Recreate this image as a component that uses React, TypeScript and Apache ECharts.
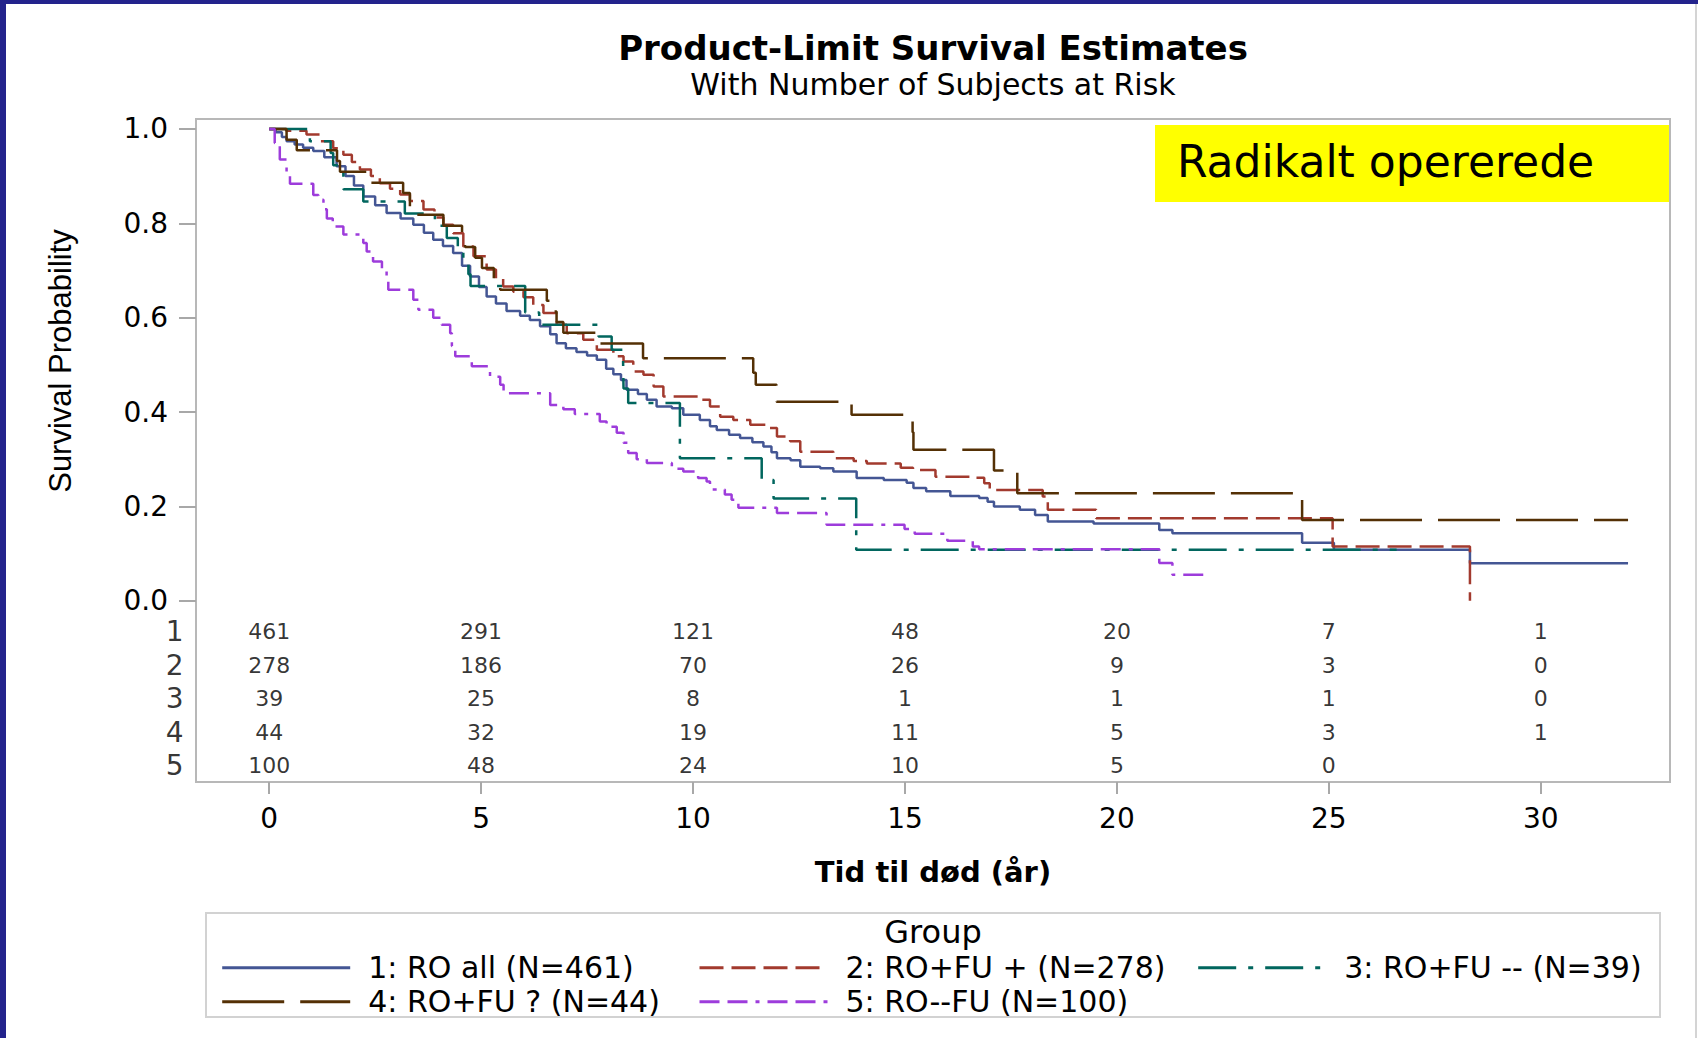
import React, { useEffect, useRef } from "react";
import * as echarts from "echarts";

// ---------- data ----------
const xTicks = [0, 5, 10, 15, 20, 25, 30];
const yTicks = [0, 0.2, 0.4, 0.6, 0.8, 1.0];

const groupNames = [
  "1: RO all (N=461)",
  "2: RO+FU + (N=278)",
  "3: RO+FU -- (N=39)",
  "4: RO+FU ? (N=44)",
  "5: RO--FU (N=100)",
];

// Group 1: RO all
const g1Times = [0.15, 0.3, 0.41, 0.6, 0.8, 1.04, 1.3, 1.59, 1.8, 2.0, 2.22, 2.5, 2.77, 3.1, 3.4, 3.65, 3.87, 4.1, 4.34, 4.55, 4.74, 4.95, 5.13, 5.35, 5.6, 5.92, 6.15, 6.39, 6.63, 6.78, 7.0, 7.25, 7.5, 7.73, 7.95, 8.12, 8.3, 8.43, 8.7, 8.91, 9.14, 9.5, 9.77, 10.16, 10.4, 10.56, 10.85, 11.11, 11.4, 11.66, 11.85, 11.98, 12.3, 12.53, 13.0, 13.31, 13.86, 14.5, 15.04, 15.2, 15.5, 16.07, 16.75, 16.95, 17.1, 17.71, 18.07, 18.37, 19.45, 21.0, 21.31, 24.37, 25.12, 28.33];
const g1Surv = [0.993, 0.983, 0.974, 0.967, 0.96, 0.953, 0.94, 0.921, 0.9, 0.88, 0.857, 0.838, 0.822, 0.81, 0.797, 0.78, 0.765, 0.752, 0.737, 0.71, 0.687, 0.665, 0.645, 0.63, 0.614, 0.604, 0.595, 0.582, 0.565, 0.546, 0.535, 0.527, 0.52, 0.511, 0.492, 0.48, 0.468, 0.447, 0.438, 0.426, 0.412, 0.408, 0.394, 0.383, 0.37, 0.362, 0.352, 0.345, 0.336, 0.327, 0.315, 0.302, 0.298, 0.284, 0.281, 0.274, 0.26, 0.256, 0.25, 0.239, 0.232, 0.222, 0.218, 0.21, 0.2, 0.193, 0.182, 0.168, 0.164, 0.15, 0.143, 0.123, 0.108, 0.0795];
const g1End = 32.06;

// Group 2: RO+FU +
const g2Times = [0.4, 0.88, 1.2, 1.51, 1.75, 1.95, 2.14, 2.4, 2.61, 2.85, 3.09, 3.32, 3.64, 3.9, 4.11, 4.34, 4.58, 4.82, 5.13, 5.35, 5.52, 5.76, 6.0, 6.23, 6.47, 6.78, 7.02, 7.41, 7.73, 8.12, 8.36, 8.59, 8.83, 9.07, 9.3, 10.16, 10.4, 10.64, 10.95, 11.35, 11.74, 11.98, 12.29, 12.53, 13.31, 13.79, 14.1, 14.9, 15.19, 15.72, 16.57, 16.87, 17.0, 18.25, 18.37, 19.51, 25.09, 28.33];
const g2Surv = [0.996, 0.988, 0.974, 0.959, 0.945, 0.93, 0.914, 0.9, 0.885, 0.873, 0.861, 0.847, 0.829, 0.812, 0.797, 0.779, 0.751, 0.73, 0.702, 0.683, 0.666, 0.655, 0.643, 0.627, 0.61, 0.585, 0.567, 0.553, 0.532, 0.518, 0.507, 0.486, 0.479, 0.454, 0.433, 0.426, 0.412, 0.39, 0.383, 0.373, 0.366, 0.348, 0.338, 0.316, 0.302, 0.296, 0.291, 0.282, 0.277, 0.263, 0.261, 0.249, 0.235, 0.221, 0.193, 0.175, 0.115, 0.0];
const g2End = 28.33;

// Group 3: RO+FU --
const g3Times = [0.96, 1.45, 1.51, 1.75, 2.22, 3.2, 3.91, 4.19, 4.45, 4.58, 4.7, 4.75, 6.04, 6.37, 7.77, 8.08, 8.35, 8.36, 8.47, 9.69, 11.62, 11.9, 13.85];
const g3Surv = [0.974, 0.949, 0.923, 0.872, 0.846, 0.821, 0.795, 0.769, 0.744, 0.718, 0.692, 0.667, 0.611, 0.585, 0.56, 0.532, 0.504, 0.45, 0.419, 0.302, 0.256, 0.217, 0.108];
const g3End = 26.6;

// Group 4: RO+FU ?
const g4Times = [0.41, 0.65, 1.6, 1.67, 2.3, 3.16, 3.32, 4.11, 4.55, 4.62, 4.86, 5.02, 5.3, 5.45, 6.55, 6.67, 6.78, 6.94, 7.8, 8.82, 11.42, 11.48, 11.97, 13.74, 15.18, 15.2, 17.1, 17.65, 24.37];
const g4Surv = [0.977, 0.955, 0.932, 0.909, 0.886, 0.864, 0.818, 0.795, 0.773, 0.75, 0.727, 0.705, 0.682, 0.659, 0.636, 0.613, 0.591, 0.568, 0.545, 0.514, 0.483, 0.458, 0.422, 0.394, 0.357, 0.32, 0.276, 0.228, 0.171];
const g4End = 32.06;

// Group 5: RO--FU
const g5Times = [0.13, 0.25, 0.41, 0.49, 1.04, 1.16, 1.28, 1.36, 1.5, 1.75, 2.22, 2.3, 2.45, 2.66, 2.77, 2.81, 3.4, 3.52, 3.87, 4.07, 4.27, 4.31, 4.39, 4.78, 5.21, 5.45, 5.53, 6.63, 6.94, 7.21, 7.8, 7.96, 8.2, 8.36, 8.47, 8.67, 8.91, 9.5, 9.77, 10.12, 10.32, 10.4, 10.75, 10.91, 11.07, 11.98, 13.15, 14.99, 15.23, 16.0, 16.6, 16.75, 21.0, 21.31];
const g5Surv = [0.97, 0.935, 0.907, 0.884, 0.86, 0.85, 0.83, 0.81, 0.793, 0.776, 0.758, 0.74, 0.719, 0.7, 0.68, 0.659, 0.638, 0.617, 0.6, 0.585, 0.567, 0.54, 0.518, 0.497, 0.475, 0.458, 0.44, 0.415, 0.406, 0.396, 0.38, 0.369, 0.356, 0.335, 0.313, 0.3, 0.292, 0.28, 0.274, 0.26, 0.253, 0.236, 0.225, 0.214, 0.197, 0.186, 0.161, 0.152, 0.142, 0.127, 0.115, 0.109, 0.08, 0.055];
const g5End = 22.15;

// Number at risk (per group, at x ticks)
const atRisk1 = [461, 291, 121, 48, 20, 7, 1];
const atRisk2 = [278, 186, 70, 26, 9, 3, 0];
const atRisk3 = [39, 25, 8, 1, 1, 1, 0];
const atRisk4 = [44, 32, 19, 11, 5, 3, 1];
const atRisk5 = [100, 48, 24, 10, 5, 0, null];

// ---------- styling / layout ----------
const FONT = "'DejaVu Sans', sans-serif";
const colors = ["#445694", "#A23A2E", "#01665E", "#543005", "#9D3CDB"];
const dashes: any[] = ["solid", [24, 8], [38, 12, 5, 12], [62, 16], [20, 8, 20, 8, 4, 8]];

const X_MIN = -1.727;
const X_MAX = 33.05;
const Y_MIN = -0.384;
const Y_MAX = 1.021;
const ROW_Y0 = -0.0661;
const ROW_STEP = 0.0708;

function stepData(times: number[], surv: number[], end: number) {
  const d: number[][] = [[0, 1]];
  for (let i = 0; i < times.length; i++) d.push([times[i], surv[i]]);
  const last = d[d.length - 1];
  if (end > last[0]) d.push([end, last[1]]);
  return d;
}

function buildOption() {
  const curves = [
    stepData(g1Times, g1Surv, g1End),
    stepData(g2Times, g2Surv, g2End),
    stepData(g3Times, g3Surv, g3End),
    stepData(g4Times, g4Surv, g4End),
    stepData(g5Times, g5Surv, g5End),
  ];
  const lineSeries = curves.map((data, i) => ({
    type: "line",
    name: groupNames[i],
    data,
    step: "end",
    symbol: "none",
    showSymbol: false,
    silent: true,
    clip: true,
    z: 3 + i,
    lineStyle: { color: colors[i], width: 2.5, type: dashes[i] },
    itemStyle: { color: colors[i] },
  }));

  const risks = [atRisk1, atRisk2, atRisk3, atRisk4, atRisk5];
  const riskData: any[] = [];
  risks.forEach((row, r) => {
    row.forEach((v, k) => {
      if (v === null) return;
      riskData.push({ value: [xTicks[k], ROW_Y0 - r * ROW_STEP], label: { formatter: String(v) } });
    });
  });
  const rowLabelData = risks.map((_, r) => ({
    value: [X_MIN, ROW_Y0 - r * ROW_STEP],
    label: { formatter: String(r + 1) },
  }));

  const legendCommon = {
    orient: "vertical",
    itemWidth: 128,
    itemHeight: 16,
    itemGap: 4,
    padding: 0,
    selectedMode: false,
    itemStyle: { opacity: 0, borderWidth: 0 },
    lineStyle: { width: 3 },
    textStyle: { fontFamily: FONT, fontSize: 30, color: "#000", lineHeight: 30, padding: [0, 0, 0, 13] },
  };

  return {
    animation: false,
    backgroundColor: "#ffffff",
    grid: {
      left: 196,
      right: 28,
      top: 119,
      bottom: 256,
      show: true,
      borderColor: "#b8b8b8",
      borderWidth: 2,
      backgroundColor: "#ffffff",
    },
    xAxis: {
      type: "value",
      min: X_MIN,
      max: X_MAX,
      name: "Tid til død (år)",
      nameLocation: "middle",
      nameGap: 75,
      nameTextStyle: { fontFamily: FONT, fontSize: 29, fontWeight: "bold", color: "#000" },
      axisLine: { show: false, onZero: false },
      splitLine: { show: false },
      axisTick: { show: true, length: 12, inside: false, lineStyle: { color: "#a8a8a8", width: 2 }, customValues: xTicks },
      axisLabel: { customValues: xTicks, fontFamily: FONT, fontSize: 28, color: "#000", margin: 22, formatter: (v: number) => String(v) },
    },
    yAxis: {
      type: "value",
      min: Y_MIN,
      max: Y_MAX,
      axisLine: { show: false, onZero: false },
      splitLine: { show: false },
      axisTick: { show: true, length: 17, inside: false, lineStyle: { color: "#a8a8a8", width: 2 }, customValues: yTicks },
      axisLabel: { customValues: yTicks, fontFamily: FONT, fontSize: 28, color: "#000", margin: 28, formatter: (v: number) => v.toFixed(1) },
    },
    legend: [
      { ...legendCommon, left: 220.7, top: 952.7, data: [groupNames[0], groupNames[3]] },
      { ...legendCommon, left: 698, top: 952.7, data: [groupNames[1], groupNames[4]] },
      { ...legendCommon, left: 1196.7, top: 952.7, data: [groupNames[2]] },
    ],
    series: [
      ...lineSeries,
      {
        type: "scatter",
        name: "atrisk",
        silent: true,
        symbolSize: 1,
        itemStyle: { color: "rgba(0,0,0,0)" },
        data: riskData,
        label: { show: true, position: "inside", fontFamily: FONT, fontSize: 22, color: "#000" },
        z: 10,
      },
      {
        type: "scatter",
        name: "rowlabels",
        silent: true,
        symbolSize: 1,
        clip: false,
        itemStyle: { color: "rgba(0,0,0,0)" },
        data: rowLabelData,
        label: { show: true, position: "left", distance: 12, fontFamily: FONT, fontSize: 28, color: "#000" },
        z: 10,
      },
    ],
    graphic: [
      { type: "rect", shape: { x: 0, y: 0, width: 1698, height: 4 }, style: { fill: "#23238c" }, silent: true },
      { type: "rect", shape: { x: 0, y: 0, width: 6, height: 1038 }, style: { fill: "#23238c" }, silent: true },
      { type: "rect", shape: { x: 1695, y: 4, width: 2, height: 1034 }, style: { fill: "#d4d4d4" }, silent: true },
      {
        type: "text", x: 933, y: 48, silent: true,
        style: { text: "Product-Limit Survival Estimates", font: `bold 34px ${FONT}`, fill: "#000", align: "center", verticalAlign: "middle" },
      },
      {
        type: "text", x: 933, y: 84, silent: true,
        style: { text: "With Number of Subjects at Risk", font: `30px ${FONT}`, fill: "#000", align: "center", verticalAlign: "middle" },
      },
      {
        type: "text", x: 60, y: 361, rotation: Math.PI / 2, silent: true,
        style: { text: "Survival Probability", font: `31px 'Liberation Sans', ${FONT}`, fill: "#000", align: "center", verticalAlign: "middle" },
      },
      { type: "rect", z: 1, shape: { x: 1155, y: 125, width: 514, height: 77 }, style: { fill: "#ffff00" }, silent: true },
      {
        type: "text", x: 1177, y: 161, z: 2, silent: true,
        style: { text: "Radikalt opererede", font: `44px 'Comic Sans MS', ${FONT}`, fill: "#000", align: "left", verticalAlign: "middle" },
      },
      { type: "rect", shape: { x: 206, y: 913, width: 1454, height: 104 }, style: { fill: "none", stroke: "#d2d2d2", lineWidth: 2 }, silent: true },
      {
        type: "text", x: 933, y: 932, silent: true,
        style: { text: "Group", font: `32px ${FONT}`, fill: "#000", align: "center", verticalAlign: "middle" },
      },
    ],
  };
}

export default function App() {
  const ref = useRef<HTMLDivElement>(null);
  useEffect(() => {
    document.body.style.margin = "0";
    const chart = echarts.init(ref.current as HTMLDivElement, null, { renderer: "svg" });
    chart.setOption(buildOption() as any);
    return () => chart.dispose();
  }, []);
  return <div ref={ref} style={{ width: 1698, height: 1038, background: "#fff" }} />;
}
